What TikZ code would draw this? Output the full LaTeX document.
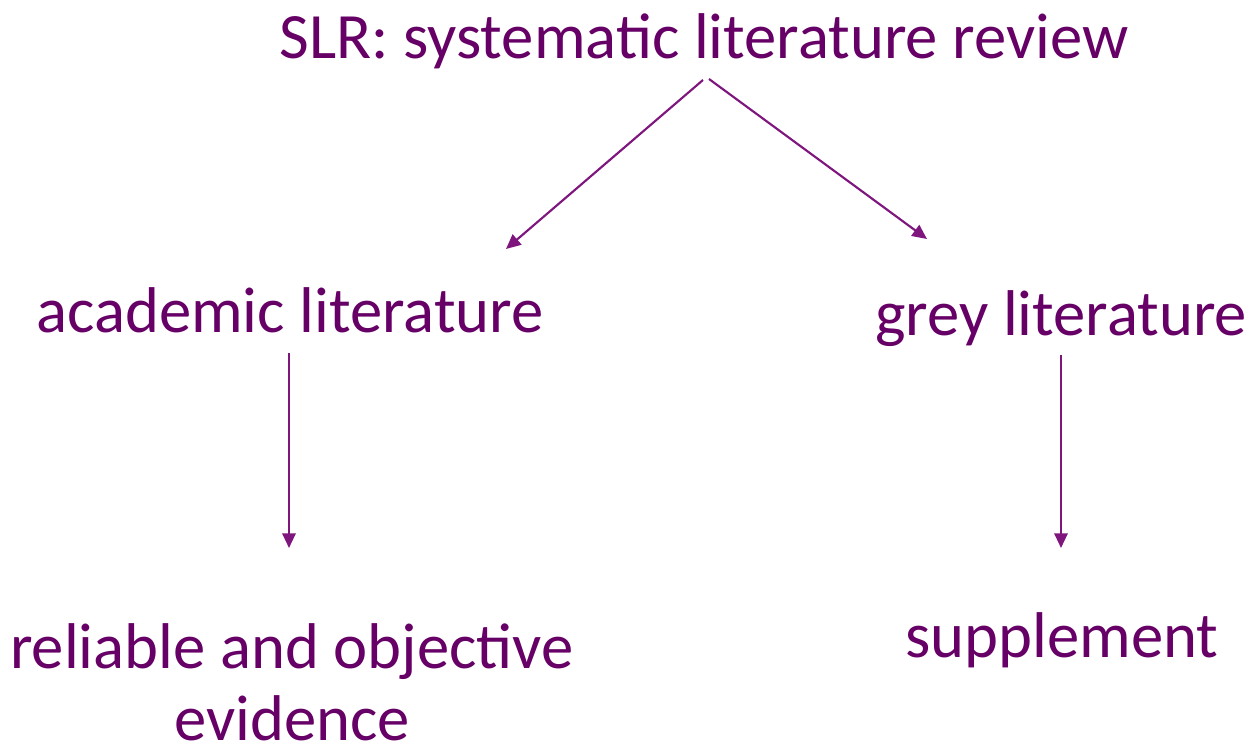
\documentclass[tikz,border=0pt]{standalone}
\usepackage{fontspec}
\setmainfont{Carlito}
\usetikzlibrary{arrows.meta}
\definecolor{txtpurple}{HTML}{660066}
\definecolor{arrpurple}{HTML}{7E167E}
\tikzset{
  lbl/.style={text=txtpurple, anchor=base, inner sep=0pt, font=\fontsize{48.5}{54}\selectfont, align=center},
  arr/.style={draw=arrpurple, line width=1.6pt, -{Triangle[length=11pt,width=10pt]}}
}
\begin{document}
\begin{tikzpicture}[x=0.75pt,y=-0.75pt]
\useasboundingbox (0,0) rectangle (1253,746);
\node[lbl] (title) at (704,58) {SLR: systematic literature review};
\node[lbl] (acad) at (290,332) {academic literature};
\node[lbl] (grey) at (1061,335) {grey literature};
\node[lbl] (rel) at (292,740) {reliable and objective\\evidence};
\node[lbl] (sup) at (1062,657) {supplement};
\coordinate (tl) at (703,80);
\coordinate (tr) at (709,79);
\coordinate (al) at (506,249);
\coordinate (gr) at (927,239);
\coordinate (ad) at (289,353);
\coordinate (ae) at (289,548);
\coordinate (gd) at (1061,355);
\coordinate (ge) at (1061,548);
\draw[arr] (tl) -- (al);
\draw[arr] (tr) -- (gr);
\draw[arr] (ad) -- (ae);
\draw[arr] (gd) -- (ge);
\end{tikzpicture}
\end{document}
